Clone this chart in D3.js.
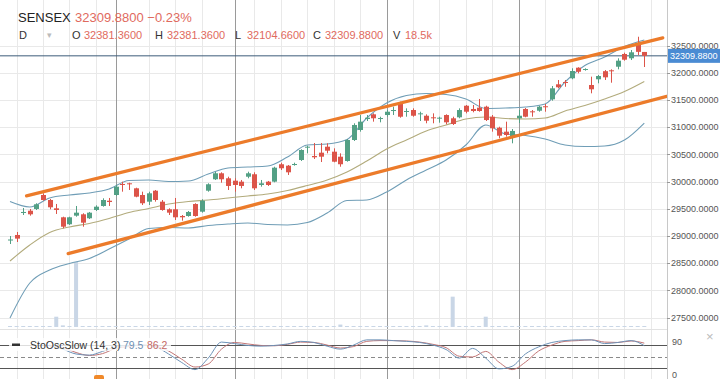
<!DOCTYPE html>
<html>
<head>
<meta charset="utf-8">
<script src="https://cdn.jsdelivr.net/npm/d3@7"></script>
<style>
  body { margin: 0; background: #fff; }
  svg { display: block; font-family: "Liberation Sans", Arial, sans-serif; }
</style>
</head>
<body>
<div id="chart"></div>
<script>
// daily candles, one per trading day (index 0..96)
const opens = [28915,29017,29421,29463,29495,29752,29660,29507,29342,29214,29372,29397,29324,29476,29550,29647,29752,29954,29967,29875,
  29752,29629,29831,29629,29489,29489,29366,29366,29586,29445,29831,30041,30151,30059,30015,29997,30088,30133,29936,29997,
  29997,30317,30291,30303,30395,30629,30469,30530,30640,30548,30456,30377,30763,30947,31149,31235,31155,31222,31301,31437,
  31283,31314,31235,31209,31180,31155,31222,31162,31180,31393,31333,31357,31375,31191,30989,30916,30824,31162,31333,31290,
  31301,31383,31511,31787,31829,31897,32092,32062,31774,31879,32028,32044,32110,32344,32265,32509,32381.36];
const highs = [28998,29072,29513,29495,29600,29783,29678,29587,29353,29353,29550,29416,29440,29562,29691,29697,29936,29997,29978,29886,
  29813,29813,29844,29660,29507,29697,29384,29458,29600,29673,29967,30180,30169,30088,30059,30028,30180,30169,30028,30010,
  30272,30346,30303,30346,30592,30658,30708,30708,30702,30610,30518,30781,31070,31222,31222,31253,31191,31314,31375,31467,
  31345,31345,31283,31235,31253,31191,31235,31191,31345,31406,31406,31517,31393,31222,31007,31100,30965,31314,31351,31314,
  31393,31425,31755,31866,31866,32081,32100,32081,31927,31958,32049,32062,32265,32368,32417,32661,32381.36];
const lows = [28851,28888,29384,29372,29476,29647,29489,29403,29140,29201,29353,29169,29311,29458,29537,29550,29734,29813,29844,29710,
  29568,29568,29629,29463,29384,29292,29280,29353,29353,29427,29813,30028,29978,29844,29813,29875,30059,29844,29905,29918,
  29985,30211,30120,30291,30377,30518,30414,30358,30518,30353,30272,30364,30745,30916,31112,31100,31088,31191,31222,31173,
  31191,31191,31112,31070,31070,31081,31051,31039,31162,31253,31272,31283,31112,30916,30794,30824,30702,31075,31180,31191,
  31283,31283,31485,31713,31742,31879,31989,32037,31621,31805,31866,31816,32062,32221,32233,32325,32104.66];
const closes = [28934,28950,29440,29397,29581,29660,29526,29476,29169,29342,29427,29243,29427,29537,29660,29623,29905,29936,29960,29721,
  29600,29783,29660,29476,29427,29342,29342,29440,29366,29647,29949,30151,30041,29918,29936,29918,30151,29875,29967,29936,
  30254,30243,30169,30322,30579,30640,30445,30456,30566,30364,30317,30763,31039,31100,31173,31162,31167,31283,31314,31191,
  31296,31209,31253,31118,31170,31173,31088,31057,31314,31283,31296,31296,31130,30978,30842,30855,30929,31209,31191,31272,
  31375,31370,31713,31732,31816,32031,32018,32068,31695,31939,31915,32031,32221,32239,32375,32383,32309.88];
// volume in thousands
const volumes = [14,12,16,15,13,14,12,190,30,13,1200,15,12,14,13,12,16,14,13,12,
  15,14,13,12,14,16,13,12,14,15,16,15,13,12,14,13,15,14,12,13,
  15,14,13,12,16,15,14,13,12,15,45,16,15,14,13,12,14,15,13,14,
  13,12,14,30,13,12,14,560,15,13,14,12,190,16,15,14,13,16,14,12,
  13,15,16,14,13,15,14,12,16,14,13,12,15,16,14,17,18.5];

// Bollinger bands (20, 2) sampled every 3rd day
const bandIdx = [0,3,6,9,12,15,18,21,24,27,30,33,36,39,42,45,48,51,54,57,60,63,66,69,72,75,78,81,84,87,90,93,96];
const bandUpper = [29632,29531,29697,29752,29789,29862,30018,30028,29999,30009,30138,30248,30267,30285,30450,30671,30689,30772,
  31167,31443,31581,31617,31599,31516,31342,31351,31369,31425,31829,32132,32288,32481,32601];
const bandMiddle = [28539,28833,29063,29164,29228,29320,29430,29504,29586,29632,29660,29697,29734,29770,29835,29927,30028,30175,
  30377,30597,30763,30928,31039,31149,31186,31158,31149,31167,31296,31397,31516,31654,31838];
const bandLower = [27491,28134,28373,28493,28585,28759,28943,29136,29155,29145,29191,29219,29237,29210,29201,29246,29421,29651,
  29660,29807,30028,30211,30395,30671,31039,30873,30846,30781,30671,30643,30653,30763,31075];

// hand-drawn trend channel (day index, price)
const channelUpper = [[2.5, 29735], [98.8, 32640]];
const channelLower = [[8.8, 28675], [99.4, 31565]];

// slow stochastic (14, 3) sampled every 2nd day
const oscIdx = [6,8,10,12,14,16,18,20,22,24,26,28,30,32,34,36,38,40,42,44,46,48,50,52,54,56,58,60,62,64,66,68,70,72,74,76,78,80,82,84,86,88,90,92,94,96];
const stochK = [81,70,57,54,64,76,80,81,76,57,34,15,46,89,85,80,78,80,84,91,88,78,70,81,95,95,93,91,88,81,69,46,72,46,17,24,57,76,88,93,95,95,85,88,93,79.5];
const stochD = [78,74,61,53,58,72,77,81,78,65,43,22,30,70,88,84,80,79,83,89,88,81,73,77,91,93,93,92,89,83,74,51,49,64,35,15,35,65,81,91,93,95,89,88,92,86.2];

const priceTicks = [27500,28000,28500,29000,29500,30000,30500,31000,31500,32000,32500];
const weekTicks = [1,5,9,13,21,25,29,37,41,45,49,53,61,65,69,73,81,85,89,93,97];
const monthTicks = [16,34,57,77];
const oscLevels = [20, 50, 80];
const oscLabels = [90, 0];

const headerRow = [['O', '32381.3600'], ['H', '32381.3600'], ['L', '32104.6600'], ['C', '32309.8800'], ['V', '18.5k']];

const width = 720, height = 379;
const plotRight = 667;
const mainBottom = 329;
const up = '#53a085', down = '#dc5449';
const axisFont = 9;

const svg = d3.select('#chart').append('svg').attr('width', width).attr('height', height);

const x = d3.scaleLinear().domain([0, 96]).range([10, 644.3]);
const y = d3.scaleLinear().domain([27500, 32500]).range([317.5, 45.5]);
const yVol = d3.scaleLinear().domain([0, 1200]).range([327, 262]);
const yOsc = d3.scaleLinear().domain([0, 100]).range([375.2, 338]);

const defs = svg.append('defs');
defs.append('clipPath').attr('id', 'clipMain')
  .append('rect').attr('x', 0).attr('y', 0).attr('width', plotRight).attr('height', mainBottom);
defs.append('clipPath').attr('id', 'clipOsc')
  .append('rect').attr('x', 0).attr('y', mainBottom + 1).attr('width', plotRight).attr('height', height - mainBottom);

// grid
const grid = svg.append('g');
grid.selectAll('.hg').data(priceTicks).join('line')
  .attr('x1', 0).attr('x2', plotRight)
  .attr('y1', d => Math.round(y(d)) + 0.5).attr('y2', d => Math.round(y(d)) + 0.5)
  .attr('stroke', '#e9e9e9');
grid.selectAll('.wg').data(weekTicks).join('line')
  .attr('x1', d => Math.round(x(d)) + 0.5).attr('x2', d => Math.round(x(d)) + 0.5)
  .attr('y1', 0).attr('y2', height)
  .attr('stroke', '#e9e9e9');
grid.selectAll('.mg').data(monthTicks).join('line')
  .attr('x1', d => Math.round(x(d)) + 0.5).attr('x2', d => Math.round(x(d)) + 0.5)
  .attr('y1', 0).attr('y2', height)
  .attr('stroke', '#9a9a9a');

// pane separator + right axis line
svg.append('line').attr('x1', 0).attr('x2', plotRight).attr('y1', mainBottom + 0.5).attr('y2', mainBottom + 0.5).attr('stroke', '#e2e2e2');
svg.append('line').attr('x1', plotRight + 0.5).attr('x2', plotRight + 0.5).attr('y1', 0).attr('y2', height).attr('stroke', '#c8c8c8');

const main = svg.append('g').attr('clip-path', 'url(#clipMain)');

// volume
main.append('g').selectAll('rect').data(volumes).join('rect')
  .attr('x', (d, i) => x(i) - 2)
  .attr('width', 4)
  .attr('y', d => Math.min(yVol(d), 326))
  .attr('height', d => Math.max(1, yVol(0) - yVol(d)))
  .attr('fill', '#c9d6e6');

// bollinger bands
const bandLine = (vals) => d3.line()
  .x((d, i) => x(bandIdx[i]))
  .y(d => y(d))
  .curve(d3.curveMonotoneX)(vals);
main.append('path').attr('d', bandLine(bandUpper)).attr('fill', 'none').attr('stroke', '#6f9db6').attr('stroke-width', 1.1);
main.append('path').attr('d', bandLine(bandLower)).attr('fill', 'none').attr('stroke', '#6f9db6').attr('stroke-width', 1.1);
main.append('path').attr('d', bandLine(bandMiddle)).attr('fill', 'none').attr('stroke', '#b2ab7c').attr('stroke-width', 1.1);

// last price line
const lastClose = closes[closes.length - 1];
main.append('line').attr('x1', 0).attr('x2', plotRight)
  .attr('y1', y(lastClose)).attr('y2', y(lastClose))
  .attr('stroke', '#3d5b7a').attr('stroke-width', 1);

// candles
const candles = main.append('g').selectAll('g').data(d3.range(opens.length)).join('g');
candles.append('line')
  .attr('x1', i => Math.round(x(i)) + 0.5).attr('x2', i => Math.round(x(i)) + 0.5)
  .attr('y1', i => y(highs[i])).attr('y2', i => y(lows[i]))
  .attr('stroke', i => closes[i] >= opens[i] ? up : down);
candles.append('rect')
  .attr('x', i => Math.round(x(i)) - 2)
  .attr('width', 5)
  .attr('y', i => y(Math.max(opens[i], closes[i])))
  .attr('height', i => Math.max(1, Math.abs(y(opens[i]) - y(closes[i]))))
  .attr('fill', i => closes[i] >= opens[i] ? up : down);

// trend channel
[channelUpper, channelLower].forEach(pts => {
  main.append('line')
    .attr('x1', x(pts[0][0])).attr('y1', y(pts[0][1]))
    .attr('x2', x(pts[1][0])).attr('y2', y(pts[1][1]))
    .attr('stroke', '#ec7b2a').attr('stroke-width', 3.2).attr('stroke-linecap', 'round');
});

// price axis
const axis = svg.append('g');
axis.selectAll('line').data(priceTicks).join('line')
  .attr('x1', plotRight).attr('x2', plotRight + 3)
  .attr('y1', d => Math.round(y(d)) + 0.5).attr('y2', d => Math.round(y(d)) + 0.5)
  .attr('stroke', '#999');
axis.selectAll('text').data(priceTicks).join('text')
  .attr('x', plotRight + 4).attr('y', d => y(d) + 3.3)
  .attr('font-size', axisFont).attr('fill', '#555')
  .text(d => d3.format('.4f')(d));

// last price tag
svg.append('rect').attr('x', plotRight + 1).attr('y', y(lastClose) - 7)
  .attr('width', width - plotRight - 1).attr('height', 14).attr('fill', '#4a8bd3');
svg.append('text').attr('x', plotRight + 3).attr('y', y(lastClose) + 3.3)
  .attr('font-size', axisFont).attr('fill', '#fff').text(d3.format('.4f')(lastClose));

// oscillator pane
const osc = svg.append('g').attr('clip-path', 'url(#clipOsc)');
osc.selectAll('.lvl').data(oscLevels).join('line')
  .attr('x1', 0).attr('x2', plotRight)
  .attr('y1', d => Math.round(yOsc(d)) + 0.5).attr('y2', d => Math.round(yOsc(d)) + 0.5)
  .attr('stroke', d => d === 50 ? '#8a8a8a' : '#555')
  .attr('stroke-dasharray', d => d === 50 ? '4,3' : null);

const oscLine = d3.line()
  .x((d, i) => x(oscIdx[i]))
  .y(d => yOsc(d))
  .curve(d3.curveMonotoneX);
osc.append('path').attr('d', oscLine(stochD)).attr('fill', 'none').attr('stroke', '#c27575').attr('stroke-width', 1);
osc.append('path').attr('d', oscLine(stochK)).attr('fill', 'none').attr('stroke', '#6e93b8').attr('stroke-width', 1);

// oscillator legend
svg.append('rect').attr('x', 9).attr('y', 338).attr('width', 162).attr('height', 13)
  .attr('fill', '#fff').attr('opacity', 0.8);
svg.append('rect').attr('x', 12).attr('y', 343.5).attr('width', 8).attr('height', 2.5).attr('fill', '#333');
svg.append('text').attr('x', 30).attr('y', 348.5).attr('font-size', 10.5).attr('fill', '#333').text('StoOscSlow (14, 3)');
svg.append('text').attr('x', 123).attr('y', 348.5).attr('font-size', 10.5).attr('fill', '#7091b3').text(stochK[stochK.length - 1]);
svg.append('text').attr('x', 147).attr('y', 348.5).attr('font-size', 10.5).attr('fill', '#c46a66').text(stochD[stochD.length - 1]);

svg.selectAll('.ol').data(oscLabels).join('text')
  .attr('x', plotRight + 5).attr('y', d => yOsc(d) + 3)
  .attr('font-size', axisFont).attr('fill', '#555').text(d => d);
svg.append('text').attr('x', 706).attr('y', 341).attr('font-size', 13).attr('fill', '#bbb').text('×');
svg.append('rect').attr('x', 94).attr('y', 375).attr('width', 10).attr('height', 6).attr('rx', 2).attr('fill', '#f0892a');

// header
const head = svg.append('g');
head.append('text').attr('x', 18).attr('y', 21.5).attr('font-size', 13).attr('fill', '#222').text('SENSEX');
head.append('text').attr('x', 75).attr('y', 21.5).attr('font-size', 13).attr('fill', '#df6a5e')
  .text(d3.format('.4f')(lastClose) + ' \u22120.23%');
head.append('text').attr('x', 19).attr('y', 39).attr('font-size', 11).attr('fill', '#333').text('D');
head.append('text').attr('x', 47).attr('y', 38).attr('font-size', 9).attr('fill', '#bbb').text('\u25BE');
const labelX = [72, 155, 235, 313, 393];
headerRow.forEach(([k, v], j) => {
  head.append('text').attr('x', labelX[j]).attr('y', 39).attr('font-size', 11).attr('fill', '#333').text(k);
  head.append('text').attr('x', labelX[j] + 12).attr('y', 39).attr('font-size', 11).attr('fill', '#df6a5e').text(v);
});
</script>
</body>
</html>
